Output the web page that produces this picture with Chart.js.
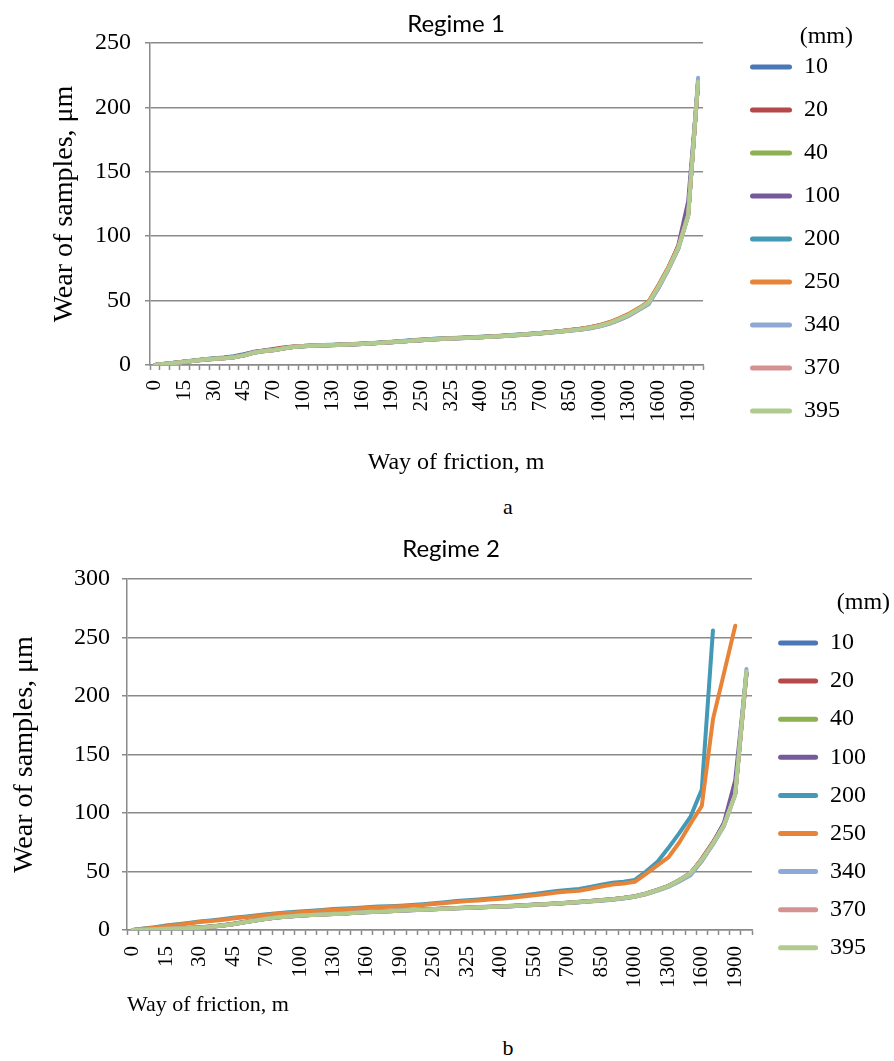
<!DOCTYPE html>
<html>
<head>
<meta charset="utf-8">
<script src="https://cdn.jsdelivr.net/npm/chart.js@4.4.1/dist/chart.umd.min.js"></script>
<style>
  html, body { margin: 0; padding: 0; background: #fff; }
  body { width: 894px; height: 1061px; position: relative; overflow: hidden;
         font-family: "Liberation Serif", "Times New Roman", serif; }
  .panel { position: absolute; left: 0; width: 894px; }
  .panel canvas { display: block; }
  .cap { position: absolute; left: 508px; transform: translate(-50%, -50%);
         font-size: 22px; line-height: 1; color: #000; }
</style>
</head>
<body>
<div class="panel" style="top:0;height:490px"><canvas id="regime1" width="894" height="490"></canvas></div>
<div class="cap" style="top:507px">a</div>
<div class="panel" style="top:525px;height:500px"><canvas id="regime2" width="894" height="500"></canvas></div>
<div class="cap" style="top:1048px">b</div>

<script>
// Friction path (m); every third category carries a printed label
const CATEGORIES = [
  '0','5','10','15','20','25','30','35','40','45',
  '50','60','70','80','90','100','110','120','130','140',
  '150','160','170','180','190','210','230','250','275','300',
  '325','350','375','400','450','500','550','600','650','700',
  '750','800','850','900','950','1000','1100','1200','1300','1400',
  '1500','1600','1700','1800','1900','2000'
];
const LABEL_STEP = 3;

// Sample distances (mm)
const SIZES = ['10', '20', '40', '100', '200', '250', '340', '370', '395'];
const COLORS = ['#4A78B4', '#B4484A', '#8DB050', '#765A9C', '#4399B6',
                '#E88438', '#8FA9D6', '#D49290', '#B0CB8E'];

// ---- Regime 1: wear (µm) ----
const R1_10 = [0,0.9,1.8,2.7,3.6,4.5,5.2,5.8,6.8,8.4,
  10.2,11.0,11.7,12.9,14.0,14.6,15.0,15.3,15.6,15.9,
  16.2,16.5,16.9,17.4,17.9,18.5,19.1,19.7,20.1,20.5,
  20.8,21.1,21.4,21.8,22.2,22.6,23.1,23.6,24.2,24.8,
  25.5,26.2,27.0,27.8,29.0,30.6,32.8,35.8,39.3,43.8,
  49,61,75,92,118,219];
const R1_20 = [0,0.8,1.7,2.6,3.4,4.3,4.9,5.5,6.3,7.9,
  10.0,11.3,12.4,13.6,14.3,14.8,15.1,15.3,15.5,15.8,
  16.1,16.4,16.8,17.2,17.7,18.2,18.8,19.3,19.7,20.2,
  20.6,20.9,21.2,21.6,22.0,22.5,23.0,23.5,24.1,24.7,
  25.4,26.1,27.0,27.9,29.2,30.8,33.0,36.0,39.5,44.0,
  49,62,76,92,117,219];
const R1_40 = [0,0.8,1.6,2.5,3.3,4.2,4.8,5.4,6.1,7.6,
  9.7,10.9,11.6,12.8,14.0,14.6,15.0,15.3,15.6,15.9,
  16.2,16.5,16.9,17.4,17.9,18.4,19.0,19.5,19.9,20.4,
  20.7,21.0,21.3,21.7,22.1,22.5,23.0,23.5,24.1,24.7,
  25.4,26.1,26.9,27.7,28.9,30.4,32.6,35.6,39.1,43.6,
  48.6,61,75,91,117,220];
const R1_100 = [0,0.7,1.5,2.4,3.2,4.1,4.7,5.2,5.9,7.4,
  9.5,10.7,11.4,12.7,13.9,14.5,14.9,15.2,15.4,15.7,
  16.0,16.3,16.7,17.2,17.7,18.2,18.8,19.3,19.7,20.2,
  20.5,20.8,21.1,21.5,21.9,22.3,22.8,23.3,23.9,24.5,
  25.2,25.9,26.7,27.4,28.6,30.0,32.1,35.0,38.5,43.0,
  47.8,60,75,93,127,218];
const R1_200 = [0,0.9,1.8,2.7,3.5,4.4,5.0,5.6,6.4,8.0,
  10.0,11.1,11.8,13.0,14.2,14.8,15.2,15.5,15.7,16.0,
  16.3,16.6,17.0,17.5,18.0,18.6,19.2,19.8,20.2,20.6,
  20.9,21.2,21.5,21.9,22.3,22.7,23.2,23.7,24.3,24.9,
  25.6,26.3,27.1,27.9,29.1,30.6,32.7,35.7,39.2,43.7,
  48.8,61,75,91,117,220];
const R1_250 = [0,0.8,1.6,2.5,3.3,4.2,4.8,5.3,6.0,7.6,
  9.7,10.9,11.7,13.0,14.2,14.8,15.1,15.3,15.5,15.8,
  16.1,16.4,16.8,17.3,17.8,18.3,18.9,19.4,19.9,20.4,
  20.7,21.0,21.3,21.7,22.1,22.5,23.0,23.5,24.1,24.7,
  25.4,26.2,27.1,28.0,29.3,30.9,33.2,36.2,39.8,44.2,
  49.2,62,76,92,117,219];
const R1_340 = [0,0.7,1.5,2.4,3.2,4.1,4.7,5.2,5.9,7.4,
  9.5,10.7,11.4,12.7,13.9,14.5,14.9,15.2,15.4,15.7,
  16.0,16.3,16.7,17.2,17.7,18.2,18.8,19.3,19.7,20.2,
  20.5,20.8,21.1,21.5,21.9,22.3,22.8,23.3,23.9,24.5,
  25.1,25.8,26.5,27.3,28.4,29.8,31.9,34.8,38.2,42.6,
  47.2,60,74,90,116,223];
const R1_370 = [0,0.8,1.6,2.5,3.3,4.2,4.8,5.3,6.0,7.5,
  9.6,10.8,11.6,12.9,14.1,14.7,15.1,15.4,15.6,15.9,
  16.2,16.5,16.9,17.3,17.8,18.3,18.9,19.4,19.8,20.3,
  20.6,20.9,21.2,21.6,22.0,22.4,22.9,23.4,24.0,24.6,
  25.3,26.0,26.8,27.6,28.8,30.3,32.5,35.5,39.0,43.5,
  48.5,61,75,91,116,219];
const R1_395 = [0,0.8,1.6,2.5,3.3,4.2,4.8,5.3,6.0,7.5,
  9.6,10.8,11.5,12.8,14.0,14.6,15.0,15.3,15.5,15.8,
  16.1,16.4,16.8,17.3,17.8,18.3,18.9,19.4,19.8,20.3,
  20.6,20.9,21.2,21.6,22.0,22.4,22.9,23.4,24.0,24.6,
  25.3,26.0,26.8,27.6,28.8,30.3,32.5,35.5,39.0,43.5,
  48.5,61,75,91,116,220];

// ---- Regime 2: wear (µm) ----
const R2_10 = [0,0.4,0.8,1.2,1.5,1.9,2.3,3.1,4.1,5.4,
  7.0,8.6,9.9,11.0,11.8,12.5,13.1,13.5,13.9,14.4,
  15.0,15.5,15.9,16.3,16.8,17.2,17.6,18.0,18.4,18.8,
  19.2,19.6,19.9,20.2,20.7,21.2,21.7,22.2,22.8,23.4,
  24.1,24.8,25.6,26.4,27.5,28.9,31.3,34.3,37.8,42.8,
  48.8,60,74,91,117,220];
const R2_20 = [0,0.3,0.7,1.1,1.4,1.7,2.1,2.9,3.9,5.1,
  6.7,8.3,9.7,10.9,11.7,12.4,13.0,13.4,13.8,14.3,
  14.9,15.4,15.8,16.2,16.7,17.1,17.5,17.9,18.3,18.7,
  19.1,19.5,19.8,20.1,20.6,21.1,21.6,22.1,22.7,23.3,
  24.0,24.7,25.5,26.3,27.4,28.7,31.1,34.1,37.6,42.6,
  48.6,61,75,91,117,219];
const R2_40 = [0,0.3,0.6,1.0,1.3,1.6,2.0,2.8,3.8,5.0,
  6.6,8.2,9.6,10.8,11.6,12.3,12.9,13.3,13.7,14.2,
  14.8,15.3,15.7,16.1,16.6,17.0,17.4,17.8,18.2,18.6,
  19.0,19.4,19.7,20.0,20.5,21.0,21.5,22.0,22.6,23.2,
  23.9,24.6,25.4,26.2,27.3,28.6,31.0,34.0,37.5,42.5,
  48.5,60,74,91,117,220];
const R2_100 = [0,0.3,0.6,0.9,1.2,1.5,1.9,2.7,3.7,4.9,
  6.5,8.1,9.5,10.7,11.5,12.2,12.8,13.2,13.6,14.1,
  14.7,15.2,15.6,16.0,16.5,16.9,17.3,17.7,18.1,18.5,
  18.9,19.3,19.6,19.9,20.4,20.9,21.4,21.9,22.5,23.1,
  23.8,24.5,25.3,26.1,27.2,28.5,30.8,33.8,37.2,42.0,
  47.8,59,74,92,128,219];
const R2_200 = [0,1.2,2.4,3.8,5.0,6.0,7.2,8.2,9.2,10.4,
  11.4,12.4,13.4,14.4,15.2,15.8,16.4,17.2,17.9,18.4,
  18.9,19.5,20.0,20.4,20.8,21.3,22.0,22.9,23.8,24.7,
  25.4,26.1,26.9,27.7,28.7,29.8,30.8,32.0,33.3,34.2,
  35.0,36.8,38.8,40.3,41.3,42.8,50,58,70,83,
  97,120,256,null,null,null];
const R2_250 = [0,1.0,2.0,3.3,4.4,5.5,6.8,7.7,8.6,9.8,
  10.8,11.8,12.8,13.8,14.6,15.2,15.8,16.6,17.3,17.8,
  18.3,18.9,19.4,19.8,20.2,20.7,21.4,22.3,23.1,24.0,
  24.7,25.3,26.0,26.7,27.6,28.6,29.6,30.8,32.0,32.8,
  33.6,35.2,37.2,38.8,39.8,41.2,48,55,62,75,
  91,106,180,220,260,null];
const R2_340 = [0,0.2,0.5,0.9,1.2,1.5,1.9,2.7,3.7,4.9,
  6.5,8.1,9.5,10.7,11.5,12.2,12.8,13.2,13.6,14.1,
  14.7,15.2,15.6,16.0,16.5,16.9,17.3,17.7,18.1,18.5,
  18.9,19.3,19.6,19.9,20.4,20.9,21.4,21.9,22.5,23.1,
  23.7,24.4,25.1,25.9,27.0,28.3,30.5,33.4,36.8,41.5,
  46.8,59,73,89,116,223];
const R2_370 = [0,0.3,0.6,1.0,1.3,1.6,2.0,2.8,3.8,5.0,
  6.6,8.2,9.6,10.8,11.6,12.3,12.9,13.3,13.7,14.2,
  14.8,15.3,15.7,16.1,16.6,17.0,17.4,17.8,18.2,18.6,
  19.0,19.4,19.7,20.0,20.5,21.0,21.5,22.0,22.6,23.2,
  23.9,24.6,25.4,26.2,27.3,28.6,31.0,34.0,37.5,42.5,
  48.5,60,74,90,116,218];
const R2_395 = [0,0.3,0.6,1.0,1.3,1.6,2.0,2.8,3.8,5.0,
  6.6,8.2,9.6,10.8,11.6,12.3,12.9,13.3,13.7,14.2,
  14.8,15.3,15.7,16.1,16.6,17.0,17.4,17.8,18.2,18.6,
  19.0,19.4,19.7,20.0,20.5,21.0,21.5,22.0,22.6,23.2,
  23.9,24.6,25.4,26.2,27.3,28.6,31.0,34.0,37.5,42.5,
  48.5,60,74,90,116,221];

const SERIF = '"Liberation Serif", "Times New Roman", serif';
const GRID = '#8a8a8a';
Chart.defaults.color = '#000';
Chart.defaults.font.family = SERIF;

// Moves the legend column next to the plot and widens its box for the title
const legendShift = {
  id: 'legendShift',
  afterLayout(chart, args, opts) {
    const lg = chart.legend;
    if (!lg) return;
    lg.left += opts.dx || 0;
    lg.right += opts.dx || 0;
    lg.width += opts.widen || 0;
    lg.right += opts.widen || 0;
  }
};

function buildChart(id, p) {
  const datasets = SIZES.map((s, i) => ({
    label: s,
    data: p.series[i],
    xAxisID: 'x',
    yAxisID: 'y',
    borderColor: COLORS[i],
    backgroundColor: COLORS[i],
    borderWidth: 4,
    pointRadius: 0,
    pointHoverRadius: 0,
    tension: 0,
    fill: false,
    borderCapStyle: 'round',
    borderJoinStyle: 'round',
    order: SIZES.length - 1 - i   // later series are painted on top
  }));

  return new Chart(document.getElementById(id), {
    type: 'line',
    data: { labels: CATEGORIES, datasets },
    plugins: [legendShift],
    options: {
      responsive: false,
      animation: false,
      devicePixelRatio: 1,
      layout: { padding: { left: p.padLeft, right: 0, top: 0, bottom: 0 } },
      plugins: {
        tooltip: { enabled: false },
        title: {
          display: true, text: p.title, color: '#000',
          font: { family: 'Lato, "Open Sans", sans-serif', size: 24, weight: 'normal' },
          padding: { top: 10, bottom: p.titleGap }
        },
        subtitle: p.bottomTitle ? {
          display: true, position: 'bottom', text: 'Way of friction, m', color: '#000',
          font: { family: SERIF, size: 24, weight: 'normal' },
          padding: { top: 0, bottom: p.bottomTitlePad }
        } : { display: false },
        legend: {
          position: 'right',
          align: 'start',
          title: {
            display: true, text: '(mm)', position: 'end', color: '#000',
            font: { family: SERIF, size: 24, lineHeight: p.legendTitleLH },
            padding: { top: p.legendTitleTop, bottom: 0 }
          },
          labels: {
            color: '#000',
            font: { family: SERIF, size: 24 },
            boxWidth: p.boxWidth,
            boxHeight: 5,
            padding: p.legendPad,
            useBorderRadius: true,
            borderRadius: 2.5,
            sort: (a, b) => a.datasetIndex - b.datasetIndex,
            generateLabels(chart) {
              const items = Chart.defaults.plugins.legend.labels.generateLabels(chart);
              items.forEach(it => { it.fillStyle = it.strokeStyle; it.lineWidth = 0; });
              return items;
            }
          }
        },
        legendShift: { dx: p.legendDx, widen: p.legendWiden }
      },
      scales: {
        x: {
          type: 'category',
          offset: true,
          grid: { display: true, drawOnChartArea: false, drawTicks: true, tickLength: 5,
                  tickColor: GRID, tickWidth: 1.5, offset: true },
          border: { display: true, color: GRID, width: 1.5 },
          ticks: {
            autoSkip: false, minRotation: 90, maxRotation: 90,
            padding: p.xTickPad, color: '#000',
            font: { family: SERIF, size: 21 },
            callback: (v, i) => (i % LABEL_STEP === 0 ? CATEGORIES[i] : '')
          },
          title: p.axisXTitle ? {
            display: true, text: 'Way of friction, m', align: 'start', color: '#000',
            font: { family: SERIF, size: 22 },
            padding: { top: 0, bottom: p.axisXTitlePad }
          } : { display: false },
          afterFit: s => { s.height = p.xHeight; }
        },
        y: {
          min: 0,
          max: p.yMax,
          ticks: { stepSize: 50, padding: p.yTickPad, color: '#000', font: { family: SERIF, size: 24 } },
          grid: { color: GRID, lineWidth: 1.5, drawTicks: true, tickLength: 5, tickColor: GRID },
          border: { display: true, color: GRID, width: 1.5 },
          title: {
            display: true, text: 'Wear of samples, μm', color: '#000',
            font: { family: SERIF, size: 28 },
            padding: { top: p.yTitlePad, bottom: 0 }
          },
          afterFit: s => { s.width = p.yWidth; }
        },
        // empty right-hand band that keeps white space between plot and legend
        spacer: {
          type: 'linear',
          position: 'right',
          display: true,
          grid: { display: false, drawTicks: false },
          border: { display: false },
          ticks: { display: false },
          title: { display: false },
          afterFit: s => { s.width = p.spacerWidth; }
        }
      }
    }
  });
}

buildChart('regime1', {
  title: 'Regime 1',
  series: [R1_10, R1_20, R1_40, R1_100, R1_200, R1_250, R1_340, R1_370, R1_395],
  yMax: 250,
  padLeft: 18,
  titleGap: 4.2,
  spacerWidth: 72,
  legendDx: -44,
  legendWiden: 3,
  boxWidth: 42,
  legendPad: 19,
  legendTitleLH: 11 / 24,
  legendTitleTop: 25,
  bottomTitle: true,
  bottomTitlePad: 12.6,
  axisXTitle: false,
  xHeight: 83.6,
  xTickPad: 10,
  yTickPad: 14,
  yTitlePad: 30.2,
  yWidth: 132
});

buildChart('regime2', {
  title: 'Regime 2',
  series: [R2_10, R2_20, R2_40, R2_100, R2_200, R2_250, R2_340, R2_370, R2_395],
  yMax: 300,
  padLeft: 8,
  titleGap: 15.2,
  spacerWidth: 29.9,
  legendDx: -17.9,
  legendWiden: 14,
  boxWidth: 40,
  legendPad: 14.1,
  legendTitleLH: 25.9 / 24,
  legendTitleTop: 66,
  bottomTitle: false,
  axisXTitle: true,
  axisXTitlePad: 6.8,
  xHeight: 95,
  xTickPad: 11,
  yTickPad: 12,
  yTitlePad: 0.2,
  yWidth: 119
});
</script>
</body>
</html>
